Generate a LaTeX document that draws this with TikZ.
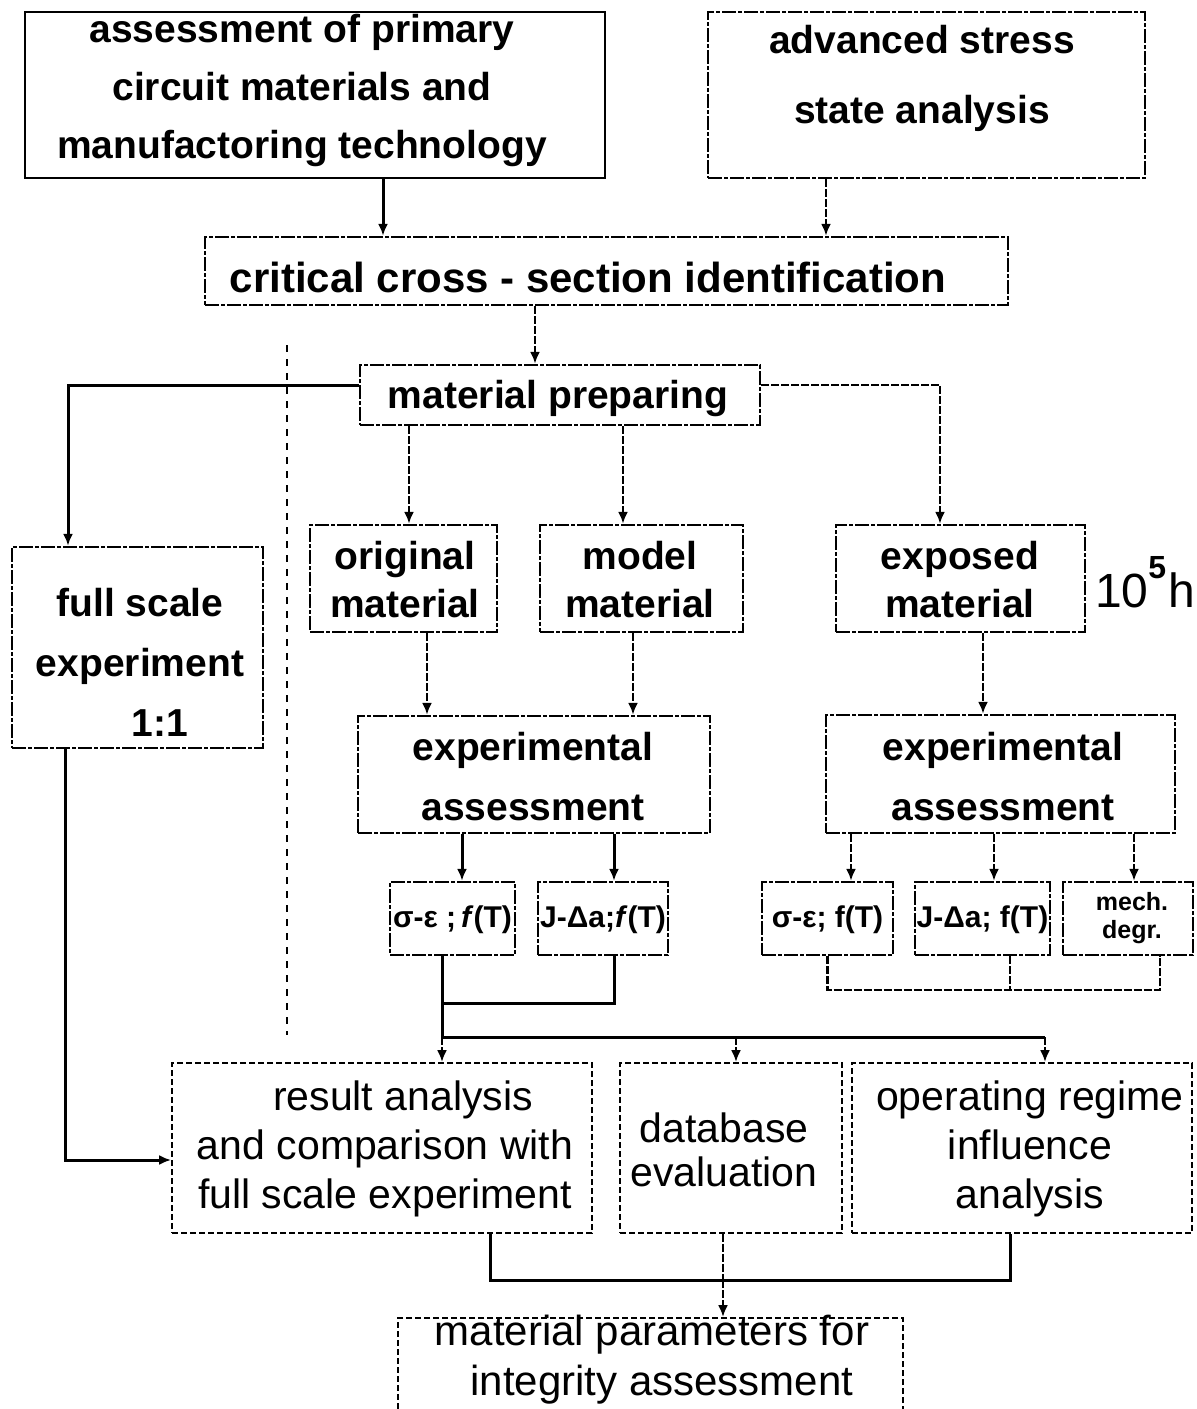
\documentclass[tikz,border=0pt]{standalone}
\usepackage{fontspec}
\setmainfont{Liberation Sans}
\usetikzlibrary{arrows.meta}
\tikzset{
  sz/.style n args={2}{minimum width=#1*0.5pt, minimum height=#2*0.5pt},
  solidbox/.style={draw, line width=1.3pt, inner sep=0pt},
  dbox/.style={draw, line width=1.2pt, dash pattern=on 7pt off 1pt on 2pt off 1pt, inner sep=0pt},
  fbox/.style={draw, line width=0.9pt, dash pattern=on 3pt off 1.5pt, inner sep=0pt},
  mtxt/.style={font=\bfseries\fontsize{19.5}{29}\selectfont, align=center, inner sep=0pt},
  ltxt/.style={font=\fontsize{20.5}{24.5}\selectfont, align=center, inner sep=0pt},
  stxt/.style={font=\bfseries\fontsize{14}{16}\selectfont, align=center, inner sep=0pt},
  conn/.style={line width=1.5pt},
  dconn/.style={line width=1.4pt, dash pattern=on 4pt off 1pt},
  arr/.style={conn, -{Latex[length=6pt,width=5pt]}},
  darr/.style={dconn, -{Latex[length=6pt,width=5pt]}},
  sepline/.style={line width=1.3pt, dash pattern=on 3.5pt off 3.5pt}
}
\begin{document}
\begin{tikzpicture}[x=0.5pt,y=-0.5pt]

\clip (0,0) rectangle (1196,1409);
\fill[white] (0,0) rectangle (1196,1409);

% top row
\node[solidbox, sz={580}{166}] (A) at (315,95) {};
\node[mtxt] (At) at (302,90) {assessment of primary\\circuit materials and\\manufactoring technology};
\node[dbox, sz={437}{166}] (B) at (926.5,95) {};
\node[mtxt, font=\bfseries\fontsize{19.5}{35}\selectfont] (Bt) at (922,78) {advanced stress\\state analysis};

% cross-section and material preparation
\node[dbox, sz={803}{68}] (C) at (606.5,271) {};
\node[mtxt, font=\bfseries\fontsize{21}{24}\selectfont] (Ct) at (588,277) {critical cross - section identification};
\node[dbox, sz={400}{60}] (D) at (560,395) {};
\node[mtxt] (Dt) at (558,398) {material preparing};

% full scale branch
\node[dbox, sz={251}{201}] (FS) at (137.5,647.5) {};
\node[mtxt, font=\bfseries\fontsize{19.5}{30}\selectfont] (FSt) at (140,662) {full scale\\experiment\\\hspace*{20pt}1:1};

% material variants
\node[dbox, sz={187}{107}] (OM) at (403.5,578.5) {};
\node[mtxt, font=\bfseries\fontsize{19.5}{24}\selectfont] (OMt) at (405,580) {original\\material};
\node[dbox, sz={203}{107}] (MM) at (641.5,578.5) {};
\node[mtxt, font=\bfseries\fontsize{19.5}{24}\selectfont] (MMt) at (640,580) {model\\material};
\node[dbox, sz={249}{107}] (EM) at (960.5,578.5) {};
\node[mtxt, font=\bfseries\fontsize{19.5}{24}\selectfont] (EMt) at (960,580) {exposed\\material};
\node[inner sep=0pt, font=\fontsize{24}{28}\selectfont] (hours) at (1145,582) {10\raisebox{0.6em}{\fontsize{16}{16}\selectfont\bfseries 5}\kern1pt h};

% experimental assessment
\node[dbox, sz={352}{117}] (XL) at (534,774.5) {};
\node[mtxt, font=\bfseries\fontsize{19.5}{30}\selectfont] (XLt) at (533,777) {experimental\\assessment};
\node[dbox, sz={349}{118}] (XR) at (1000.5,774) {};
\node[mtxt, font=\bfseries\fontsize{19.5}{30}\selectfont] (XRt) at (1003,777) {experimental\\assessment};

% result boxes
\node[dbox, sz={125}{73}] (S1) at (452.5,918.5) {};
\node[stxt, font=\bfseries\fontsize{15}{16}\selectfont] (S1t) at (452.5,920) {σ-ε ;\,\textit{f}(T)};
\node[dbox, sz={130}{73}] (S2) at (603,918.5) {};
\node[stxt, font=\bfseries\fontsize{15}{16}\selectfont] (S2t) at (603,920) {J-Δa;\textit{f}(T)};
\node[dbox, sz={131}{73}] (S3) at (827.5,918.5) {};
\node[stxt, font=\bfseries\fontsize{15}{16}\selectfont] (S3t) at (827.5,920) {σ-ε; f(T)};
\node[dbox, sz={135}{73}] (S4) at (982.5,918.5) {};
\node[stxt, font=\bfseries\fontsize{15}{16}\selectfont] (S4t) at (982.5,920) {J-Δa; f(T)};
\node[dbox, sz={130}{73}] (S5) at (1128,918.5) {};
\node[stxt, font=\bfseries\fontsize{12.5}{14}\selectfont] (S5t) at (1132,918) {mech.\\degr.};

% analysis row
\node[fbox, sz={420}{170}] (R1) at (382,1148) {};
\node[ltxt] (R1t) at (385,1149) {\hspace*{18pt}result analysis\\and comparison with\\full scale experiment};
\node[fbox, sz={222}{170}] (R2) at (731,1148) {};
\node[ltxt, font=\fontsize{20.5}{22}\selectfont] (R2t) at (724,1150) {database\\evaluation};
\node[fbox, sz={340}{170}] (R3) at (1022,1148) {};
\node[ltxt] (R3t) at (1030,1149) {operating regime\\influence\\analysis};

% final output
\node[fbox, sz={505}{102}] (F) at (650.5,1369) {};
\node[ltxt, font=\fontsize{21}{25}\selectfont] (Ft) at (652,1360) {material parameters for\\\hspace*{10pt}integrity assessment};

% separator between full scale and laboratory branches
\draw[sepline] (287,345) -- (287,1035);

% connectors
\draw[arr] (A.south -| 383,0) -- (C.north -| 383,0);
\draw[darr] (B.south -| 826,0) -- (C.north -| 826,0);
\draw[darr] (C.south -| 535,0) -- (D.north -| 535,0);
\draw[arr] ([yshift=5pt]D.west) -| (FS.north -| 68,0);
\draw[darr] ([yshift=5pt]D.east) -| (EM.north -| 940,0);
\draw[darr] (D.south -| 409,0) -- (OM.north -| 409,0);
\draw[darr] (D.south -| 623,0) -- (MM.north -| 623,0);
\draw[darr] (OM.south -| 427,0) -- (XL.north -| 427,0);
\draw[darr] (MM.south -| 633,0) -- (XL.north -| 633,0);
\draw[darr] (EM.south -| 983,0) -- (XR.north -| 983,0);
\draw[arr] (XL.south -| 462,0) -- (S1.north -| 462,0);
\draw[arr] (XL.south -| 614,0) -- (S2.north -| 614,0);
\draw[darr] (XR.south -| 851,0) -- (S3.north -| 851,0);
\draw[darr] (XR.south -| 994,0) -- (S4.north -| 994,0);
\draw[darr] (XR.south -| 1134,0) -- (S5.north -| 1134,0);

\coordinate (j1) at (442,1003);
\coordinate (busL) at (442,1037);
\coordinate (busR) at (1045,1037);
\coordinate (busM) at (736,1037);
\draw[conn] (S1.south -| j1) -- (busL) -- (busR);
\draw[conn] (S2.south -| 614,0) |- (j1);
\draw[darr] (busL) -- (R1.north -| busL);
\draw[darr] (busM) -- (R2.north -| busM);
\draw[darr] (busR) -- (R3.north -| busR);

\coordinate (brR) at (1160,990);
\draw[dconn] (S3.south) |- (brR) -- (S5.south -| brR);
\draw[dconn] (S4.south -| 1010,0) -- (brR -| 1010,0);

\draw[arr] (FS.south -| 65,0) |- ([yshift=-6pt]R1.west);

\coordinate (busB) at (723,1280);
\draw[conn] (R1.south -| 490,0) |- (busB) -| (R3.south -| 1010,0);
\draw[dconn] (R2.south -| busB) -- (busB);
\draw[darr] (busB) -- (F.north -| busB);
\end{tikzpicture}
\end{document}
